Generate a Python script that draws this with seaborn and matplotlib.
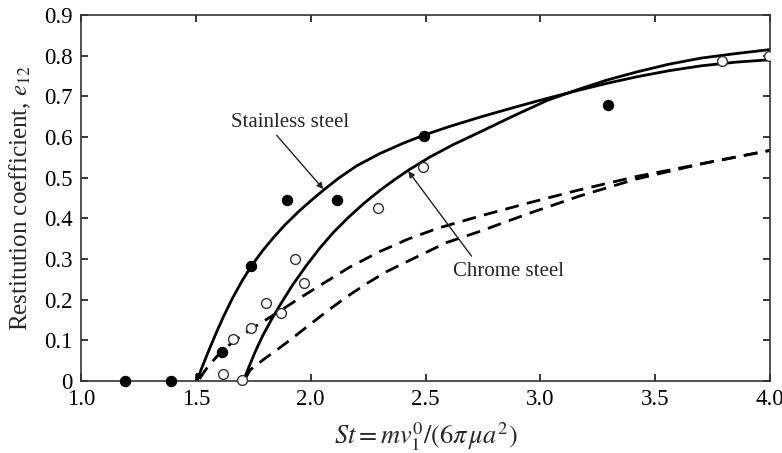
import matplotlib
matplotlib.use("Agg")
import matplotlib.pyplot as plt
from matplotlib.patches import Rectangle
import seaborn as sns
import pandas as pd

# Model curves: solid = full model, dashed = simplified model
stainless_st = [1.504, 1.53, 1.56, 1.59, 1.62, 1.66, 1.70, 1.742, 1.79, 1.84, 1.89, 1.95, 2.00, 2.055,
                2.12, 2.20, 2.30, 2.40, 2.49, 2.60, 2.75, 2.90, 3.03, 3.16, 3.29, 3.42, 3.56, 3.70, 3.85, 4.0]
stainless_e = [0.000, 0.038, 0.080, 0.120, 0.158, 0.204, 0.245, 0.283, 0.320, 0.354, 0.385, 0.418, 0.443, 0.469,
               0.498, 0.529, 0.559, 0.584, 0.604, 0.625, 0.651, 0.675, 0.695, 0.714, 0.732, 0.748, 0.763, 0.775, 0.784, 0.790]

chrome_st = [1.707, 1.73, 1.76, 1.79, 1.83, 1.87, 1.92, 1.98, 2.04, 2.10, 2.16, 2.23, 2.302, 2.37, 2.43,
             2.52, 2.62, 2.74, 2.88, 3.03, 3.16, 3.29, 3.42, 3.56, 3.70, 3.85, 4.0]
chrome_e = [0.000, 0.033, 0.074, 0.110, 0.152, 0.190, 0.235, 0.283, 0.327, 0.366, 0.400, 0.436, 0.469, 0.497, 0.520,
            0.551, 0.581, 0.613, 0.651, 0.690, 0.716, 0.740, 0.760, 0.779, 0.794, 0.805, 0.815]

dash_upper_st = [1.515, 1.547, 1.60, 1.663, 1.75, 1.852, 1.95, 2.055, 2.17, 2.30, 2.42, 2.55, 2.74, 2.95,
                 3.17, 3.42, 3.71, 4.0]
dash_upper_e = [0.005, 0.031, 0.066, 0.097, 0.131, 0.167, 0.203, 0.240, 0.280, 0.318, 0.348, 0.375, 0.406, 0.438,
                0.470, 0.503, 0.535, 0.567]

dash_lower_st = [1.715, 1.736, 1.80, 1.852, 1.92, 1.983, 2.07, 2.157, 2.245, 2.331, 2.447, 2.59, 2.737, 2.95,
                 3.172, 3.42, 3.71, 4.0]
dash_lower_e = [0.005, 0.027, 0.055, 0.076, 0.105, 0.133, 0.171, 0.207, 0.240, 0.269, 0.301, 0.340, 0.368, 0.412,
                0.455, 0.497, 0.535, 0.567]

# Measurements
stainless_pts_st = [1.19, 1.39, 1.615, 1.742, 1.895, 2.115, 2.495, 3.295]
stainless_pts_e = [0.0, 0.0, 0.071, 0.282, 0.444, 0.444, 0.603, 0.678]

chrome_pts_st = [1.617, 1.703, 1.661, 1.742, 1.805, 1.870, 1.932, 1.969, 2.293, 2.490, 3.790, 3.995]
chrome_pts_e = [0.016, 0.003, 0.102, 0.131, 0.192, 0.166, 0.301, 0.242, 0.425, 0.527, 0.786, 0.800]

x_ticks = [1.0, 1.5, 2.0, 2.5, 3.0, 3.5, 4.0]
x_tick_labels = ["1.0", "1.5", "2.0", "2.5", "3.0", "3.5", "4.0"]
y_ticks = [0, 0.1, 0.2, 0.3, 0.4, 0.5, 0.6, 0.7, 0.8, 0.9]
y_tick_labels = ["0", "0.1", "0.2", "0.3", "0.4", "0.5", "0.6", "0.7", "0.8", "0.9"]

sns.set_style("ticks")
plt.rcParams["font.family"] = ["Liberation Serif", "DejaVu Serif"]
plt.rcParams["mathtext.fontset"] = "stix"

fig = plt.figure(figsize=(7.82, 4.53), dpi=100)
ax = fig.add_axes([0.1036, 0.159, 0.8811, 0.8079])

curves = [
    (stainless_st, stainless_e, "-"),
    (chrome_st, chrome_e, "-"),
    (dash_upper_st, dash_upper_e, "--"),
    (dash_lower_st, dash_lower_e, "--"),
]
for xs, ys, ls in curves:
    df = pd.DataFrame({"St": xs, "e": ys})
    line_ax = sns.lineplot(data=df, x="St", y="e", sort=False, estimator=None,
                           color="black", lw=2.0, ax=ax)
    ln = line_ax.lines[-1]
    ln.set_solid_joinstyle("round")
    if ls == "--":
        ln.set_linestyle("--")
        ln.set_dashes((5, 3))

pts_s = pd.DataFrame({"St": stainless_pts_st, "e": stainless_pts_e})
pts_c = pd.DataFrame({"St": chrome_pts_st, "e": chrome_pts_e})
sns.scatterplot(data=pts_s, x="St", y="e", s=55, color="black",
                edgecolor="black", linewidth=0.8, ax=ax, zorder=5)
sns.scatterplot(data=pts_c, x="St", y="e", s=50, facecolor="white",
                edgecolor="#333333", linewidth=1.0, ax=ax, zorder=5)

# markers may spill below the x-axis but are cut at the right frame
clip_rect = Rectangle((-0.05, -0.05), 1.05, 1.1, transform=ax.transAxes,
                      facecolor="none", edgecolor="none")
ax.add_patch(clip_rect)
for coll in ax.collections:
    coll.set_clip_path(clip_rect)

# arrowhead at the onset of the stainless-steel curve
ax.annotate("", xy=(stainless_st[0], stainless_e[0]),
            xytext=(stainless_st[1], stainless_e[1]),
            arrowprops=dict(arrowstyle="-|>", color="black", lw=1.2,
                            mutation_scale=9, shrinkA=0, shrinkB=0))

ax.text(1.91, 0.636, "Stainless steel", ha="center", va="center", fontsize=15)
ax.annotate("", xy=(2.055, 0.472), xytext=(1.852, 0.604),
            arrowprops=dict(arrowstyle="-|>", color="#222222", lw=1.0,
                            mutation_scale=9, shrinkA=0, shrinkB=0))
ax.text(2.86, 0.269, "Chrome steel", ha="center", va="center", fontsize=15)
ax.annotate("", xy=(2.425, 0.516), xytext=(2.70, 0.307),
            arrowprops=dict(arrowstyle="-|>", color="#222222", lw=1.0,
                            mutation_scale=9, shrinkA=0, shrinkB=0))

ax.set_xlim(1.0, 4.0)
ax.set_ylim(0, 0.9)
ax.set_xticks(x_ticks)
ax.set_xticklabels(x_tick_labels)
ax.set_yticks(y_ticks)
ax.set_yticklabels(y_tick_labels)
ax.tick_params(direction="in", length=5, width=1.1, labelsize=16.5,
               top=True, right=True, pad=6, colors="black")
for sp in ax.spines.values():
    sp.set_linewidth(1.2)
    sp.set_color("#333333")

ax.set_xlabel(r"$St = mv_1^0/(6\pi\,\mu a^2)$", fontsize=19, labelpad=7)
ax.set_ylabel(r"Restitution coefficient, $e_{12}$", fontsize=18, labelpad=8)

fig.savefig("out.png", dpi=100, facecolor="white")
